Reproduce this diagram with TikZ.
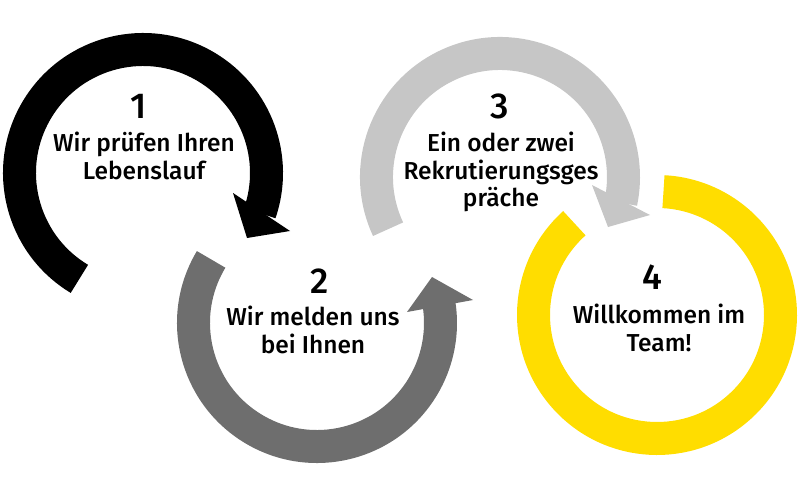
\documentclass[tikz,border=0pt]{standalone}
\usepackage{fontspec}
\setmainfont{Fira Sans}[UprightFont={* Medium}]
\usetikzlibrary{positioning,calc}
\definecolor{stepblack}{HTML}{000000}
\definecolor{stepdark}{HTML}{6E6E6E}
\definecolor{steplight}{HTML}{C6C6C6}
\definecolor{stepyellow}{HTML}{FFDD00}
\tikzset{
  ring/.style={line width=33pt, line cap=butt},
  num/.style={font=\fontsize{36}{36}\selectfont, inner sep=0pt},
  txt/.style={font=\fontsize{24.5}{27.5}\selectfont, align=center, inner sep=0pt}
}

\begin{document}
\begin{tikzpicture}[x=1pt,y=1pt]
    \useasboundingbox (0,0) rectangle (800,-500);

    % 圆心
    \coordinate (c1) at (143,-173);
    \coordinate (c2) at (317,-323);
    \coordinate (c3) at (500,-177);
    \coordinate (c4) at (657,-315);

    % 第一个箭头 (黑色)
    \draw[ring, stepblack] ([shift={(239:123.5)}]c1) arc[start angle=239, end angle=-19, radius=123.5];
    \fill[stepblack] ([shift={(90,-20)}]c1) -- ([shift={(147,-58)}]c1) -- ([shift={(104,-65)}]c1) -- cycle;

    % 第二个箭头 (深灰)
    \draw[ring, stepdark] ([shift={(149:123.5)}]c2) arc[start angle=149, end angle=369, radius=123.5];
    \fill[stepdark] ([shift={(90,11)}]c2) -- ([shift={(156,23)}]c2) -- ([shift={(115,46)}]c2) -- cycle;

    % 第三个箭头 (浅灰)
    \draw[ring, steplight] ([shift={(205:123.5)}]c3) arc[start angle=205, end angle=-12, radius=123.5];
    \fill[steplight] ([shift={(92,-8)}]c3) -- ([shift={(150,-38)}]c3) -- ([shift={(108,-50)}]c3) -- cycle;

    % 第四个圆环 (黄色)
    \draw[ring, stepyellow] ([shift={(132:123.5)}]c4) arc[start angle=132, end angle=447, radius=123.5];

    % 文字
    \node[num] (n1) at (139,-106) {1};
    \node[txt] (t1) at (144,-156) {Wir prüfen Ihren\\Lebenslauf};

    \node[num] (n2) at (320,-281) {2};
    \node[txt] (t2) at (313,-330) {Wir melden uns\\bei Ihnen};

    \node[num] (n3) at (500,-106) {3};
    \node[txt] (t3) at (501,-172) {Ein oder zwei\\Rekrutierungsges\\präche};

    \node[num] (n4) at (652,-277) {4};
    \node[txt] (t4) at (659,-328) {Willkommen im\\Team!};
\end{tikzpicture}
\end{document}
